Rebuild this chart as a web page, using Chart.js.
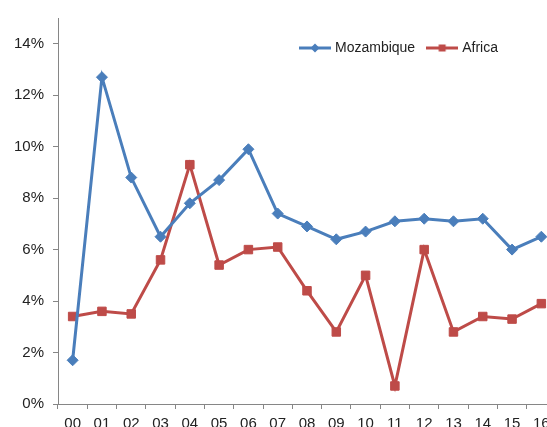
<!DOCTYPE html>
<html>
<head>
<meta charset="utf-8">
<script src="https://cdn.jsdelivr.net/npm/chart.js@4/dist/chart.umd.min.js"></script>
<style>
html,body{margin:0;padding:0;background:#fff;overflow:hidden;width:547px;height:427px;}
canvas{display:block;}
</style>
</head>
<body>
<canvas id="c" width="570" height="440" style="width:570px;height:440px"></canvas>
<script>
const categories = ['00','01','02','03','04','05','06','07','08','09','10','11','12','13','14','15','16'];
const mozambique = [1.7,12.7,8.8,6.5,7.8,8.7,9.9,7.4,6.9,6.4,6.7,7.1,7.2,7.1,7.2,6.0,6.5];
const africa     = [3.4,3.6,3.5,5.6,9.3,5.4,6.0,6.1,4.4,2.8,5.0,0.7,6.0,2.8,3.4,3.3,3.9];
const yTicks = [0,2,4,6,8,10,12,14];

const BLUE = '#4A7EBB';
const RED = '#BE4B48';
const AXIS = '#868686';
const FONT = "'Liberation Sans', Arial, sans-serif";

function legendImg(color, shape) {
  const c = document.createElement('canvas');
  c.width = 32; c.height = 12;
  const x = c.getContext('2d');
  x.strokeStyle = color; x.lineWidth = 3;
  x.beginPath(); x.moveTo(0, 6); x.lineTo(32, 6); x.stroke();
  x.fillStyle = color;
  x.beginPath();
  if (shape === 'diamond') {
    x.moveTo(16, 1.5); x.lineTo(20.5, 6); x.lineTo(16, 10.5); x.lineTo(11.5, 6); x.closePath();
  } else {
    x.rect(12.5, 2.5, 7, 7);
  }
  x.fill();
  return c;
}
const imgs = [legendImg(BLUE, 'diamond'), legendImg(RED, 'square')];

const moveLegend = {
  id: 'moveLegend',
  afterLayout(chart) {
    const l = chart.legend;
    const w = l.right - l.left, h = l.bottom - l.top;
    l.left = 288; l.right = 288 + w;
    l.top = 27; l.bottom = 27 + h;
  }
};

new Chart(document.getElementById('c'), {
  type: 'line',
  data: {
    labels: categories,
    datasets: [
      {
        label: 'Mozambique', data: mozambique,
        borderColor: BLUE, backgroundColor: BLUE, borderWidth: 3,
        pointStyle: 'rectRot', pointRadius: 5.5, pointBorderWidth: 1,
        pointBackgroundColor: BLUE, pointBorderColor: BLUE,
        tension: 0, fill: false
      },
      {
        label: 'Africa', data: africa,
        borderColor: RED, backgroundColor: RED, borderWidth: 3,
        pointStyle: 'rect', pointRadius: 6, pointBorderWidth: 1,
        pointBackgroundColor: RED, pointBorderColor: RED,
        tension: 0, fill: false
      }
    ]
  },
  options: {
    responsive: false,
    devicePixelRatio: 1,
    animation: false,
    layout: { padding: { top: -30, right: 14, left: 0, bottom: 0 } },
    plugins: {
      tooltip: { enabled: false },
      legend: {
        position: 'top',
        align: 'start',
        labels: {
          usePointStyle: true,
          pointStyleWidth: 26,
          padding: 14,
          color: '#222',
          font: { family: FONT, size: 14 },
          generateLabels(chart) {
            return chart.data.datasets.map((d, i) => ({
              text: d.label, fillStyle: d.borderColor, strokeStyle: d.borderColor,
              lineWidth: 0, pointStyle: imgs[i], datasetIndex: i, hidden: false, fontColor: '#222'
            }));
          }
        }
      }
    },
    scales: {
      x: {
        type: 'category',
        offset: true,
        grid: { display: true, offset: true, drawOnChartArea: false, drawTicks: true, tickLength: 5, color: AXIS, lineWidth: 1 },
        border: { display: true, color: AXIS, width: 1 },
        ticks: { color: '#222', font: { family: FONT, size: 15 }, padding: 6, maxRotation: 0, autoSkip: false },
        afterFit(s) { s.height = 36; }
      },
      y: {
        min: 0, max: 15,
        grid: { display: true, drawOnChartArea: false, drawTicks: true, tickLength: 5, color: AXIS, lineWidth: 1 },
        border: { display: true, color: AXIS, width: 1 },
        ticks: { color: '#222', font: { family: FONT, size: 15 }, padding: 9, callback: v => v + '%' },
        afterBuildTicks(s) { s.ticks = yTicks.map(v => ({ value: v })); },
        afterFit(s) { s.width = 58; }
      }
    }
  },
  plugins: [moveLegend]
});
</script>
</body>
</html>
